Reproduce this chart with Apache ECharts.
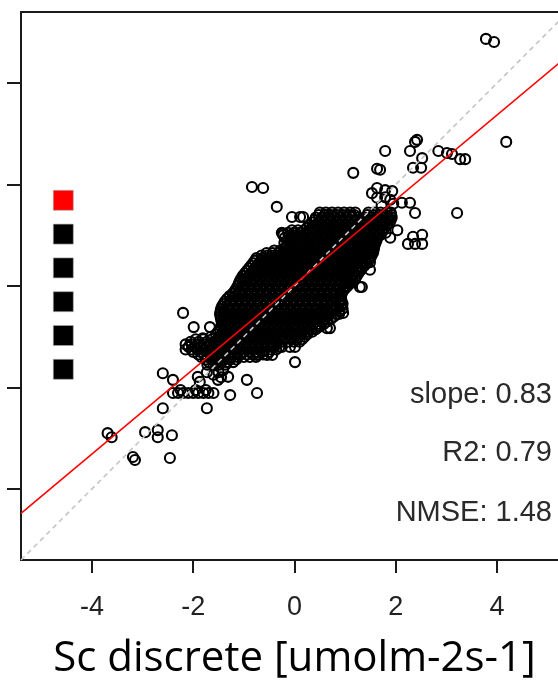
<!DOCTYPE html>
<html><head><meta charset="utf-8">
<script src="https://cdn.jsdelivr.net/npm/echarts@6/dist/echarts.min.js"></script>
<style>html,body{margin:0;padding:0;background:#fff}#c{width:558px;height:682px}</style>
</head><body><div id="c"></div>
<script>
// ---- data ----
const xTicks = [-4, -2, 0, 2, 4];
const yTicks = [-4, -2, 0, 2, 4];
const axisRange = [-5.4, 5.4];
const xTitle = 'Sc discrete [umolm-2s-1]';
const statLabels = ['slope: 0.83', 'R2: 0.79', 'NMSE: 1.48'];
const oneToOneX = [-5.4, 5.4];
const oneToOneY = [-5.4, 5.4];
const fitX = [-5.4, 5.4];
const fitY = [-4.48, 4.54];
const legendColors = ['#ff0000', '#000000', '#000000', '#000000', '#000000', '#000000'];

// scattered points outside the dense core
const outX = [3.78,3.94,4.18,1.79,2.28,2.38,2.42,2.84,3.01,3.11,3.27,3.37,2.52,2.34,2.50,1.69,1.16,1.63,
  3.21,2.03,2.34,2.52,2.24,2.38,2.52,2.12,2.28,2.38,1.79,1.93,1.63,1.89,1.63,1.53,1.79,1.49,1.33,1.33,1.04,
  0.17,0.60,0.76,0.37,-0.84,-0.62,-0.35,-0.05,0.11,-0.23,0.01,0.11,0.11,-0.72,-0.54,-0.98,-1.08,
  -2.20,-1.99,-1.67,-1.81,-1.41,0.01,-0.74,-0.54,-0.44,-0.25,-0.09,0.01,-0.03,
  -2.60,-2.40,-1.91,-1.87,-1.73,-1.41,-1.51,-1.31,-0.94,-0.74,-1.27,-1.60,-1.50,-1.45,
  -2.40,-2.30,-2.20,-2.10,-2.00,-1.90,-1.80,-1.70,-1.60,-2.25,-1.95,-1.75,
  -1.73,-2.60,-3.69,-3.61,-2.95,-2.70,-2.70,-2.42,-3.19,-3.15,-2.46,
  0.64,0.44,0.76,0.96,0.70,1.24,1.49,1.00,1.29,1.69,1.89,1.80,1.95,1.72];
const outY = [4.87,4.81,2.84,2.66,2.66,2.84,2.88,2.66,2.62,2.60,2.50,2.50,2.52,2.33,2.33,2.29,2.23,2.31,
  1.44,1.10,0.97,1.01,0.83,0.83,0.83,1.64,1.64,1.44,1.89,1.87,1.93,1.70,1.74,1.83,1.75,0.47,0.37,-0.02,0.06,
  1.36,1.40,1.36,1.10,1.95,1.93,1.56,1.36,1.36,1.03,1.05,0.99,0.77,0.36,0.47,0.14,-0.14,
  -0.53,-0.81,-0.81,-1.03,-1.03,-1.50,-1.36,-1.36,-1.36,-1.20,-1.20,-1.20,-0.77,
  -1.72,-1.85,-1.79,-1.89,-1.70,-1.66,-1.85,-1.79,-1.85,-2.11,-2.15,-1.75,-1.70,-1.80,
  -2.11,-2.11,-2.11,-2.11,-2.11,-2.11,-2.11,-2.11,-2.11,-2.05,-2.05,-2.05,
  -2.41,-2.41,-2.90,-2.98,-2.88,-2.84,-2.98,-2.94,-3.37,-3.43,-3.39,
  -0.83,-0.47,-0.43,-0.53,-0.83,0.45,0.32,0.06,-0.02,1.00,0.95,1.05,1.62,1.58];

// dense core, row by row (y value, then x values along that row)
const coreY = [1.45,1.35,1.25,1.15,1.05,0.95,0.85,0.75,0.65,0.55,0.45,0.35,0.25,0.15,0.05,-0.05,-0.15,
  -0.25,-0.35,-0.45,-0.55,-0.65,-0.75,-0.85,-0.95,-1.05,-1.15,-1.25,-1.35,-1.45,-1.55];
const coreX = [
 [0.50,0.62,0.74,0.86,0.98,1.10,1.20,1.46,1.58,1.70,1.82,1.90],
 [0.42,0.54,0.66,0.78,0.90,1.02,1.14,1.26,1.38,1.50,1.62,1.74,1.86,1.92],
 [0.35,0.47,0.59,0.71,0.83,0.95,1.07,1.19,1.31,1.43,1.55,1.67,1.79,1.88],
 [0.25,0.37,0.49,0.61,0.73,0.85,0.97,1.09,1.21,1.33,1.45,1.57,1.69,1.78],
 [-0.25,-0.13,-0.01,0.11,0.23,0.35,0.47,0.59,0.71,0.83,0.95,1.07,1.19,1.31,1.43,1.55,1.68],
 [-0.19,-0.07,0.05,0.17,0.29,0.41,0.53,0.65,0.77,0.89,1.01,1.13,1.25,1.37,1.49,1.63],
 [-0.20,-0.08,0.04,0.16,0.28,0.40,0.52,0.64,0.76,0.88,1.00,1.12,1.24,1.36,1.48,1.60],
 [-0.19,-0.07,0.05,0.17,0.29,0.41,0.53,0.65,0.77,0.89,1.01,1.13,1.25,1.37,1.49,1.57],
 [-0.55,-0.43,-0.31,-0.19,-0.07,0.05,0.17,0.29,0.41,0.53,0.65,0.77,0.89,1.01,1.13,1.25,1.37,1.49,1.55],
 [-0.75,-0.63,-0.51,-0.39,-0.27,-0.15,-0.03,0.09,0.21,0.33,0.45,0.57,0.69,0.81,0.93,1.05,1.17,1.29,1.41,1.50],
 [-0.82,-0.70,-0.58,-0.46,-0.34,-0.22,-0.10,0.02,0.14,0.26,0.38,0.50,0.62,0.74,0.86,0.98,1.10,1.22,1.34,1.42],
 [-0.90,-0.78,-0.66,-0.54,-0.42,-0.30,-0.18,-0.06,0.06,0.18,0.30,0.42,0.54,0.66,0.78,0.90,1.02,1.14,1.26,1.33],
 [-0.98,-0.86,-0.74,-0.62,-0.50,-0.38,-0.26,-0.14,-0.02,0.10,0.22,0.34,0.46,0.58,0.70,0.82,0.94,1.06,1.18,1.26],
 [-1.05,-0.93,-0.81,-0.69,-0.57,-0.45,-0.33,-0.21,-0.09,0.03,0.15,0.27,0.39,0.51,0.63,0.75,0.87,0.99,1.11,1.20],
 [-1.10,-0.98,-0.86,-0.74,-0.62,-0.50,-0.38,-0.26,-0.14,-0.02,0.10,0.22,0.34,0.46,0.58,0.70,0.82,0.94,1.06,1.10],
 [-1.15,-1.03,-0.91,-0.79,-0.67,-0.55,-0.43,-0.31,-0.19,-0.07,0.05,0.17,0.29,0.41,0.53,0.65,0.77,0.89,1.00],
 [-1.22,-1.10,-0.98,-0.86,-0.74,-0.62,-0.50,-0.38,-0.26,-0.14,-0.02,0.10,0.22,0.34,0.46,0.58,0.70,0.82,0.93],
 [-1.33,-1.21,-1.09,-0.97,-0.85,-0.73,-0.61,-0.49,-0.37,-0.25,-0.13,-0.01,0.11,0.23,0.35,0.47,0.59,0.71,0.83,0.92],
 [-1.40,-1.28,-1.16,-1.04,-0.92,-0.80,-0.68,-0.56,-0.44,-0.32,-0.20,-0.08,0.04,0.16,0.28,0.40,0.52,0.64,0.76,0.88,0.95],
 [-1.45,-1.33,-1.21,-1.09,-0.97,-0.85,-0.73,-0.61,-0.49,-0.37,-0.25,-0.13,-0.01,0.11,0.23,0.35,0.47,0.59,0.71,0.83,0.95],
 [-1.47,-1.35,-1.23,-1.11,-0.99,-0.87,-0.75,-0.63,-0.51,-0.39,-0.27,-0.15,-0.03,0.09,0.21,0.33,0.45,0.57,0.69,0.81,0.88],
 [-1.45,-1.33,-1.21,-1.09,-0.97,-0.85,-0.73,-0.61,-0.49,-0.37,-0.25,-0.13,-0.01,0.11,0.23,0.35,0.47,0.59,0.72],
 [-1.43,-1.31,-1.19,-1.07,-0.95,-0.83,-0.71,-0.59,-0.47,-0.35,-0.23,-0.11,0.01,0.13,0.25,0.37,0.49,0.58],
 [-1.47,-1.35,-1.23,-1.11,-0.99,-0.87,-0.75,-0.63,-0.51,-0.39,-0.27,-0.15,-0.03,0.09,0.21,0.33,0.42],
 [-1.55,-1.43,-1.31,-1.19,-1.07,-0.95,-0.83,-0.71,-0.59,-0.47,-0.35,-0.23,-0.11,0.01,0.13,0.25],
 [-1.95,-1.80,-1.63,-1.51,-1.39,-1.27,-1.15,-1.03,-0.91,-0.79,-0.67,-0.55,-0.43,-0.31,-0.19,-0.07,0.05,0.15],
 [-2.15,-2.03,-1.91,-1.79,-1.67,-1.55,-1.43,-1.31,-1.19,-1.07,-0.95,-0.83,-0.71,-0.59,-0.47,-0.35],
 [-2.15,-2.03,-1.91,-1.79,-1.67,-1.55,-1.43,-1.31,-1.19,-1.07,-0.95,-0.83,-0.71,-0.59,-0.47,-0.36],
 [-1.90,-1.78,-1.66,-1.54,-1.42,-1.30,-1.18,-1.06,-0.94,-0.82,-0.70,-0.62],
 [-1.75,-1.63,-1.51,-1.39,-1.27,-1.15],
 [-1.72,-1.60,-1.48,-1.36]
];
// more core points lying between the rows above
const coreY2 = [1.40,1.30,1.20,1.10,1.00,0.90,0.80,0.70,0.60,0.50,0.40,0.30,0.20,0.10,0.00,-0.10,-0.20,
  -0.30,-0.40,-0.50,-0.60,-0.70,-0.80,-0.90,-1.00,-1.10,-1.20,-1.30,-1.40,-1.50];
const coreX2 = [
 [0.48,0.60,0.72,0.84,0.96,1.08,1.18,1.44,1.56,1.68,1.80,1.91],
 [0.40,0.52,0.64,0.76,0.88,1.00,1.12,1.24,1.36,1.48,1.60,1.72,1.84,1.90],
 [0.30,0.42,0.54,0.66,0.78,0.90,1.02,1.14,1.26,1.38,1.50,1.62,1.74,1.83],
 [-0.05,0.07,0.19,0.31,0.43,0.55,0.67,0.79,0.91,1.03,1.15,1.27,1.39,1.51,1.63,1.73],
 [-0.22,-0.10,0.02,0.14,0.26,0.38,0.50,0.62,0.74,0.86,0.98,1.10,1.22,1.34,1.46,1.58,1.65],
 [-0.14,-0.02,0.10,0.22,0.34,0.46,0.58,0.70,0.82,0.94,1.06,1.18,1.30,1.42,1.54,1.62],
 [-0.14,-0.02,0.10,0.22,0.34,0.46,0.58,0.70,0.82,0.94,1.06,1.18,1.30,1.42,1.54,1.58],
 [-0.40,-0.28,-0.16,-0.04,0.08,0.20,0.32,0.44,0.56,0.68,0.80,0.92,1.04,1.16,1.28,1.40,1.52,1.56],
 [-0.65,-0.53,-0.41,-0.29,-0.17,-0.05,0.07,0.19,0.31,0.43,0.55,0.67,0.79,0.91,1.03,1.15,1.27,1.39,1.52],
 [-0.78,-0.66,-0.54,-0.42,-0.30,-0.18,-0.06,0.06,0.18,0.30,0.42,0.54,0.66,0.78,0.90,1.02,1.14,1.26,1.38,1.46],
 [-0.86,-0.74,-0.62,-0.50,-0.38,-0.26,-0.14,-0.02,0.10,0.22,0.34,0.46,0.58,0.70,0.82,0.94,1.06,1.18,1.30,1.38],
 [-0.94,-0.82,-0.70,-0.58,-0.46,-0.34,-0.22,-0.10,0.02,0.14,0.26,0.38,0.50,0.62,0.74,0.86,0.98,1.10,1.22,1.30],
 [-1.02,-0.90,-0.78,-0.66,-0.54,-0.42,-0.30,-0.18,-0.06,0.06,0.18,0.30,0.42,0.54,0.66,0.78,0.90,1.02,1.14,1.23],
 [-1.08,-0.99,-0.87,-0.75,-0.63,-0.51,-0.39,-0.27,-0.15,-0.03,0.09,0.21,0.33,0.45,0.57,0.69,0.81,0.93,1.05,1.15],
 [-1.12,-1.04,-0.92,-0.80,-0.68,-0.56,-0.44,-0.32,-0.20,-0.08,0.04,0.16,0.28,0.40,0.52,0.64,0.76,0.88,1.00,1.05],
 [-1.18,-1.09,-0.97,-0.85,-0.73,-0.61,-0.49,-0.37,-0.25,-0.13,-0.01,0.11,0.23,0.35,0.47,0.59,0.71,0.83,0.96],
 [-1.28,-1.16,-1.04,-0.92,-0.80,-0.68,-0.56,-0.44,-0.32,-0.20,-0.08,0.04,0.16,0.28,0.40,0.52,0.64,0.76,0.88,0.92],
 [-1.37,-1.27,-1.15,-1.03,-0.91,-0.79,-0.67,-0.55,-0.43,-0.31,-0.19,-0.07,0.05,0.17,0.29,0.41,0.53,0.65,0.77,0.89,0.93],
 [-1.43,-1.34,-1.22,-1.10,-0.98,-0.86,-0.74,-0.62,-0.50,-0.38,-0.26,-0.14,-0.02,0.10,0.22,0.34,0.46,0.58,0.70,0.82,0.92],
 [-1.46,-1.39,-1.27,-1.15,-1.03,-0.91,-0.79,-0.67,-0.55,-0.43,-0.31,-0.19,-0.07,0.05,0.17,0.29,0.41,0.53,0.65,0.77,0.89],
 [-1.46,-1.39,-1.27,-1.15,-1.03,-0.91,-0.79,-0.67,-0.55,-0.43,-0.31,-0.19,-0.07,0.05,0.17,0.29,0.41,0.53,0.65,0.78],
 [-1.44,-1.37,-1.25,-1.13,-1.01,-0.89,-0.77,-0.65,-0.53,-0.41,-0.29,-0.17,-0.05,0.07,0.19,0.31,0.43,0.55,0.65],
 [-1.45,-1.37,-1.25,-1.13,-1.01,-0.89,-0.77,-0.65,-0.53,-0.41,-0.29,-0.17,-0.05,0.07,0.19,0.31,0.43,0.50],
 [-1.51,-1.41,-1.29,-1.17,-1.05,-0.93,-0.81,-0.69,-0.57,-0.45,-0.33,-0.21,-0.09,0.03,0.15,0.27,0.35],
 [-1.65,-1.49,-1.37,-1.25,-1.13,-1.01,-0.89,-0.77,-0.65,-0.53,-0.41,-0.29,-0.17,-0.05,0.07,0.20],
 [-2.05,-1.89,-1.73,-1.57,-1.45,-1.33,-1.21,-1.09,-0.97,-0.85,-0.73,-0.61,-0.49,-0.37,-0.25,-0.13,-0.01,0.10],
 [-2.09,-1.97,-1.85,-1.73,-1.61,-1.49,-1.37,-1.25,-1.13,-1.01,-0.89,-0.77,-0.65,-0.53,-0.41,-0.30],
 [-2.00,-1.85,-1.72,-1.60,-1.48,-1.36,-1.24,-1.12,-1.00,-0.88,-0.76,-0.64,-0.50],
 [-1.84,-1.72,-1.60,-1.48,-1.36,-1.24,-1.12,-1.00,-0.88,-0.76],
 [-1.69,-1.57,-1.45,-1.33,-1.21]
];

// ---- build ----
const points = [];
for (let i = 0; i < outX.length; i++) points.push([outX[i], outY[i]]);
for (let r = 0; r < coreY.length; r++) for (const x of coreX[r]) points.push([x, coreY[r]]);
for (let r = 0; r < coreY2.length; r++) for (const x of coreX2[r]) points.push([x, coreY2[r]]);

const chart = echarts.init(document.getElementById('c'), null, {renderer: 'canvas'});
const GL = 21, GT = 12, GW = 547, GH = 548;
chart.setOption({
  animation: false,
  backgroundColor: '#ffffff',
  grid: {left: GL, top: GT, width: GW, height: GH, show: true, borderColor: '#1a1a1a', borderWidth: 2,
         backgroundColor: 'transparent', containLabel: false, outerBoundsMode: 'none'},
  xAxis: {
    type: 'value', min: axisRange[0], max: axisRange[1],
    splitLine: {show: false}, axisLine: {show: false, onZero: false},
    axisTick: {show: true, length: 13, lineStyle: {color: '#1a1a1a', width: 2}, customValues: xTicks},
    axisLabel: {show: true, customValues: xTicks, margin: 34, color: '#222', fontSize: 27, fontFamily: 'Liberation Sans'},
    name: xTitle, nameLocation: 'middle', nameGap: 78,
    nameTextStyle: {fontSize: 42, fontFamily: 'Open Sans', color: '#000'}
  },
  yAxis: {
    type: 'value', min: axisRange[0], max: axisRange[1],
    splitLine: {show: false}, axisLine: {show: false, onZero: false},
    axisTick: {show: true, length: 14, lineStyle: {color: '#1a1a1a', width: 2}, customValues: yTicks},
    axisLabel: {show: false}
  },
  series: [
    {type: 'scatter', data: points, symbol: 'circle', symbolSize: 10, z: 2, large: false,
     itemStyle: {color: 'rgba(0,0,0,0)', borderColor: '#000', borderWidth: 2.1, opacity: 1}, silent: true},
    {type: 'line', data: oneToOneX.map((x, i) => [x, oneToOneY[i]]), showSymbol: false, z: 3, silent: true,
     lineStyle: {color: '#c4c4c4', width: 1.6, type: [5, 4]}},
    {type: 'line', data: fitX.map((x, i) => [x, fitY[i]]), showSymbol: false, z: 4, silent: true,
     lineStyle: {color: '#ff0000', width: 1.6}}
  ],
  graphic: [
    ...statLabels.map((t, i) => ({type: 'text', right: 6, top: [380, 438, 498][i],
      style: {text: t, fill: '#2a2a2a', fontSize: 29, fontFamily: 'Liberation Sans', textAlign: 'right'}})),
    ...legendColors.map((c, i) => ({type: 'rect', left: 53, top: 190 + i * 33.8,
      shape: {width: 20, height: 20}, style: {fill: c, stroke: '#aaa', lineWidth: 0.6}}))
  ]
});
</script></body></html>
